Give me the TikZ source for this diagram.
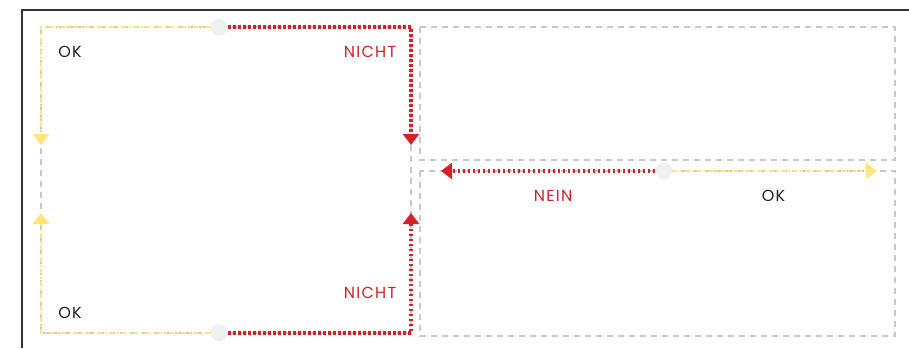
\documentclass[tikz,border=0pt]{standalone}
\usepackage{fontspec}
\setmainfont{Poppins}[LetterSpace=8]
\usetikzlibrary{arrows.meta}
\definecolor{redc}{HTML}{D42128}
\definecolor{yelc}{HTML}{FFE57A}
\definecolor{grayc}{HTML}{C8C8C8}
\definecolor{framec}{HTML}{333333}
\definecolor{dotc}{HTML}{EEF0F2}
\definecolor{txtc}{HTML}{222222}
\tikzset{
  graybox/.style={draw=grayc, line width=1.5pt, dash pattern=on 6pt off 5pt},
  redline/.style={draw=redc, line width=3.2pt, dash pattern=on 2.8pt off 2.2pt, -{Triangle[width=16pt,length=11pt]}},
  yelline/.style={draw=yelc, line width=2.8pt, dash pattern=on 5pt off 2.5pt on 2pt off 2.5pt, -{Triangle[width=16pt,length=11pt]}},
  hub/.style={circle, fill=dotc, minimum size=17pt, inner sep=0pt},
  lbl/.style={font=\fontsize{16}{18}\selectfont, inner sep=0pt, anchor=center},
  oklbl/.style={lbl, text=txtc},
  nolbl/.style={lbl, text=redc},
}
\begin{document}
\begin{tikzpicture}[x=1pt,y=-1pt]
\useasboundingbox (0,0) rectangle (909,348);
% outer frame (cropped)
\draw[framec, line width=2pt] (22,348) -- (22,10) -- (909,10);
% gray dashed boxes
\draw[graybox] (41,27) rectangle (411,333);
\draw[graybox] (420,27) rectangle (895,160);
\draw[graybox] (420,171) rectangle (895,336);
% hubs
\node[hub] (n1) at (219,27) {};
\node[hub] (n2) at (219,333) {};
\node[hub] (n3) at (664,171) {};
% endpoints
\coordinate (ra) at (411,145);
\coordinate (ya) at (41,145);
\coordinate (rb) at (411,213);
\coordinate (yb) at (41,213);
\coordinate (rc) at (441,171);
\coordinate (yc) at (877,171);
% connectors
\draw[redline] (n1) -| (ra);
\draw[yelline] (n1) -| (ya);
\draw[redline] (n2) -| (rb);
\draw[yelline] (n2) -| (yb);
\draw[redline] (n3) -- (rc);
\draw[yelline] (n3) -- (yc);
% labels
\node[oklbl] (t1) at (70,51.5) {OK};
\node[nolbl] (t2) at (370,51.5) {NICHT};
\node[oklbl] (t3) at (70,312.5) {OK};
\node[nolbl] (t4) at (370,293) {NICHT};
\node[nolbl] (t5) at (553,195.5) {NEIN};
\node[oklbl] (t6) at (773.5,195.5) {OK};
\end{tikzpicture}
\end{document}
